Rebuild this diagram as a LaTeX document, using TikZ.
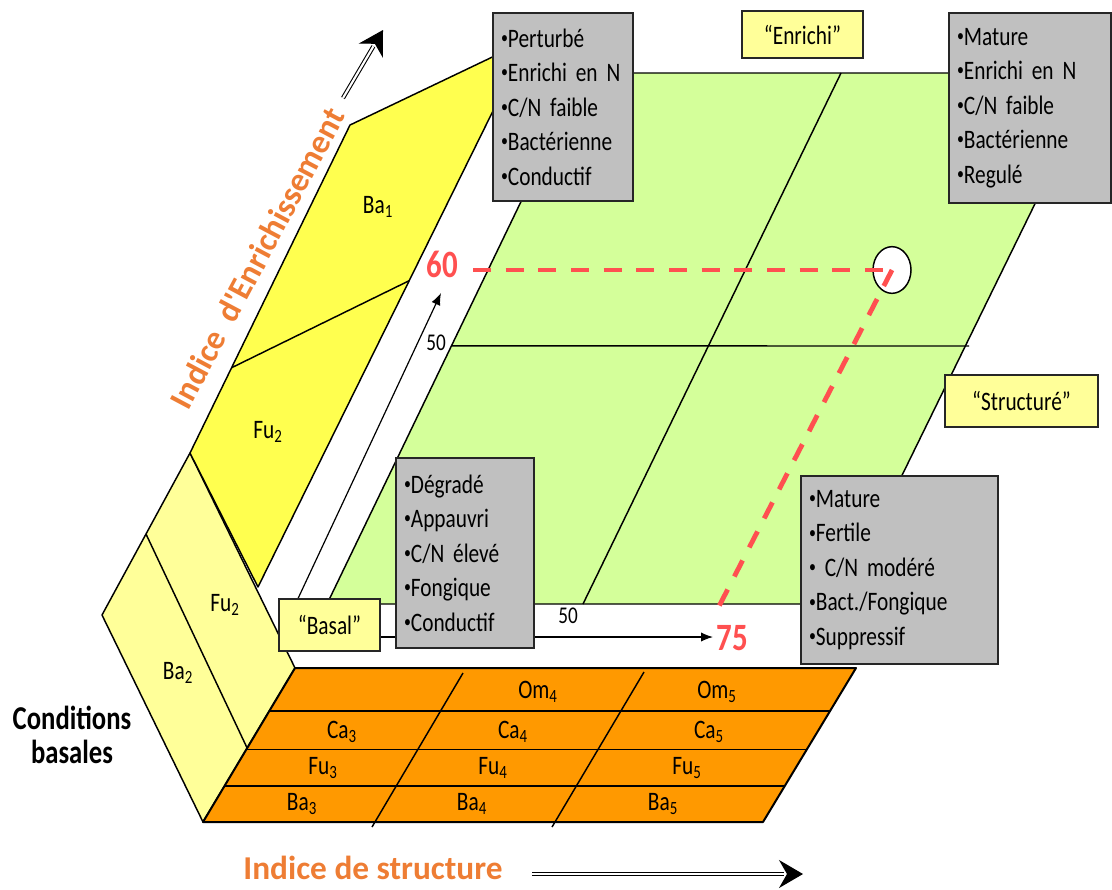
\documentclass[tikz,border=0pt]{standalone}
\usepackage{fontspec}
\setmainfont{Carlito}[FakeStretch=0.8,WordSpace=0.75]
\newfontfamily\axisfont{Carlito}
\usetikzlibrary{arrows.meta,shapes.geometric,calc}
\definecolor{cLight}{HTML}{FFFF99}
\definecolor{cBright}{HTML}{FFFF4F}
\definecolor{cGreen}{HTML}{D4FF9A}
\definecolor{cOrange}{HTML}{FF9900}
\definecolor{cGrey}{HTML}{C0C0C0}
\definecolor{cRed}{HTML}{FF5050}
\definecolor{cAxis}{HTML}{EE7D34}
\newcommand{\bul}{\raisebox{0.3ex}{\fontsize{13}{13}\selectfont•}}
\tikzset{
  face/.style={draw=black,line width=1.1pt,line join=round},
  grid/.style={draw=black,line width=1.1pt},
  infobox/.style={draw=black!85,fill=cGrey,line width=1.5pt,anchor=north west,align=left,
                  inner xsep=6pt,font=\fontsize{20}{25.9}\selectfont},
  tag/.style={draw=black!85,fill=cLight,line width=1.5pt,anchor=north west,inner sep=0pt,
              font=\fontsize{20}{24}\selectfont},
  cell/.style={font=\fontsize{20}{22}\selectfont},
  tick/.style={font=\fontsize{18}{20}\selectfont},
  redval/.style={text=cRed,font=\fontsize{29}{32}\selectfont\bfseries},
  cutline/.style={draw=cRed,line width=3.6pt,dash pattern=on 13.5pt off 11pt},
  axis/.style={-{Latex[length=9pt,width=7pt]},line width=0.9pt},
  bigarrow/.style={double,double distance=1.6pt,line width=0.8pt},
  bighead/.style={-{Stealth[length=18pt,width=21pt,inset=6pt]},line width=0.8pt},
  axislabel/.style={text=cAxis,font=\axisfont\fontsize{25}{30}\selectfont\bfseries}
}
\begin{document}
\begin{tikzpicture}[x=0.75pt,y=-0.75pt]
  \useasboundingbox (0,0) rectangle (1112,889);

  % Basal side panel (light yellow)
  \coordinate (lT) at (190,453);
  \coordinate (lL) at (102,615);
  \coordinate (lB) at (203,822);
  \coordinate (lR) at (295,668);
  \filldraw[face,fill=cLight] (lT) -- (lL) -- (lB) -- (lR) -- cycle;
  \draw[grid] ($(lT)!0.5!(lL)$) -- ($(lR)!0.52!(lB)$);

  % Enrichment wall (bright yellow)
  \coordinate (bTL) at (350,125);
  \coordinate (bTR) at (528,40);
  \coordinate (bBR) at (258,587);
  \filldraw[face,fill=cBright] (bTL) -- (bTR) -- (bBR) -- (lT) -- cycle;
  \draw[grid] ($(bTL)!0.74!(lT)$) -- ($(bTR)!0.44!(bBR)$);

  % Structured plane (green)
  \coordinate (gTL) at (583,73);
  \coordinate (gTR) at (1099,73);
  \coordinate (gBR) at (839,604);
  \coordinate (gBL) at (327,604);
  \filldraw[face,fill=cGreen] (gTL) -- (gTR) -- (gBR) -- (gBL) -- cycle;
  \draw[grid] ($(gTL)!0.5!(gTR)$) -- ($(gBL)!0.5!(gBR)$);
  \draw[grid] ($(gTL)!0.514!(gBL)$) -- (969,346);

  % Floor (orange)
  \coordinate (oTR) at (856,668);
  \coordinate (oBR) at (763,822);
  \filldraw[face,fill=cOrange,line width=1.5pt] (lR) -- (oTR) -- (oBR) -- (lB) -- cycle;
  \foreach \f in {0.28,0.53,0.766}
    \draw[grid] ($(lR)!\f!(lB)$) -- ($(oTR)!\f!(oBR)$);
  \draw[grid] (463,673) -- (372,827);
  \draw[grid] (644,672) -- (552,827);

  % axes from the basal corner
  \coordinate (orig) at (280,637);
  \coordinate (enrEnd) at (441,293);
  \coordinate (strEnd) at (713,637);
  \draw[axis] (orig) -- (enrEnd);
  \draw[axis] (orig) -- (strEnd);

  % cell labels
  \node[cell] (ba1) at (378,207) {Ba\textsubscript{1}};
  \node[cell] (fu2a) at (268,432) {Fu\textsubscript{2}};
  \node[cell] (fu2b) at (225,605) {Fu\textsubscript{2}};
  \node[cell] (ba2) at (178,673) {Ba\textsubscript{2}};
  \node[cell] (om4) at (538,692) {Om\textsubscript{4}};
  \node[cell] (om5) at (717,692) {Om\textsubscript{5}};
  \node[cell] (ca3) at (342,732) {Ca\textsubscript{3}};
  \node[cell] (ca4) at (513,732) {Ca\textsubscript{4}};
  \node[cell] (ca5) at (709,732) {Ca\textsubscript{5}};
  \node[cell] (fu3) at (323,768) {Fu\textsubscript{3}};
  \node[cell] (fu4) at (493,768) {Fu\textsubscript{4}};
  \node[cell] (fu5) at (687,768) {Fu\textsubscript{5}};
  \node[cell] (ba3) at (302,804) {Ba\textsubscript{3}};
  \node[cell] (ba4) at (472,804) {Ba\textsubscript{4}};
  \node[cell] (ba5) at (663,804) {Ba\textsubscript{5}};

  % sample position
  \node[ellipse,draw,line width=1.1pt,fill=white,minimum width=28.5pt,minimum height=35pt,
        inner sep=0pt] (spot) at (892,270) {};
  \node[redval] (v60) at (442,264) {60};
  \node[redval] (v75) at (732,638) {75};
  \node[tick] (t50a) at (436,343) {50};
  \node[tick] (t50b) at (568,616) {50};
  \draw[cutline,shorten <=8pt] (v60.east |- spot.center) -- (spot.center);
  \draw[cutline,shorten >=2pt] (spot.center) -- (v75.north west);

  % descriptor boxes
  \node[infobox,minimum height=141pt,text width=93pt] (pert) at (492,12)
    {\bul Perturbé\\\bul Enrichi en N\\\bul C/N faible\\\bul Bactérienne\\\bul Conductif};
  \node[infobox,minimum height=142.5pt,text width=109.5pt] (matTop) at (948,12)
    {\bul Mature\\\bul Enrichi en N\\\bul C/N faible\\\bul Bactérienne\\\bul Regulé};
  \node[infobox,minimum height=142.5pt,text width=91.5pt] (degr) at (395,457)
    {\bul Dégradé\\\bul Appauvri\\\bul C/N élevé\\\bul Fongique\\\bul Conductif};
  \node[infobox,minimum height=141pt,text width=135.75pt] (matLow) at (800,475)
    {\bul Mature\\\bul Fertile\\\bul\ C/N modéré\\\bul Bact./Fongique\\\bul Suppressif};

  % state tags
  \node[tag,minimum width=90.75pt,minimum height=35.25pt] (tEnr) at (741,10) {“Enrichi”};
  \node[tag,minimum width=114.75pt,minimum height=39pt] (tStr) at (944,374) {“Structuré”};
  \node[tag,minimum width=75.75pt,minimum height=39pt] (tBas) at (278,598) {“Basal”};

  % axis titles
  \node[axislabel,rotate=62] (lblEnr) at (257,258) {Indice\ \ d'Enrichissement};
  \coordinate (enrTail) at (343,98);
  \coordinate (enrTip) at (383,30);
  \draw[bigarrow] (enrTail) -- ($(enrTail)!0.76!(enrTip)$);
  \draw[bighead] ($(enrTail)!0.82!(enrTip)$) -- (enrTip);

  \node[axislabel] (lblStr) at (373,868) {Indice de structure};
  \coordinate (strTail) at (532,874);
  \coordinate (strTip) at (803,874);
  \draw[bigarrow] (strTail) -- ($(strTail)!0.93!(strTip)$);
  \draw[bighead] ($(strTail)!0.95!(strTip)$) -- (strTip);

  \node[font=\fontsize{25}{26}\selectfont\bfseries,align=center] (cond) at (72,735)
    {Conditions\\basales};
\end{tikzpicture}
\end{document}
